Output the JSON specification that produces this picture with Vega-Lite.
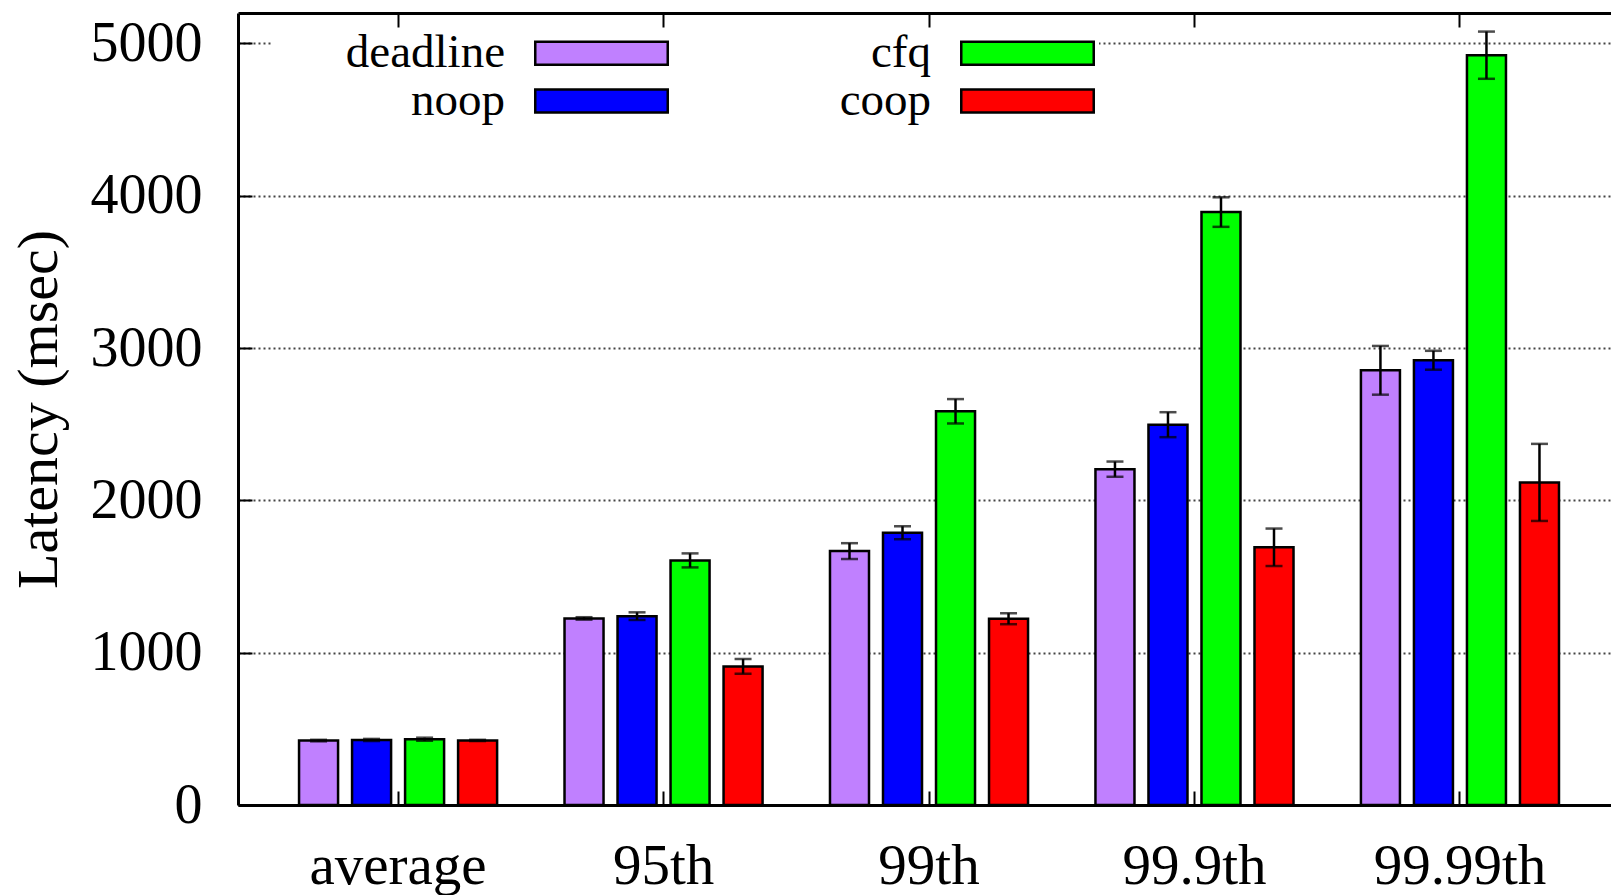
{
  "$schema": "https://vega.github.io/schema/vega-lite/v6.json",
  "width": 1373,
  "height": 792,
  "autosize": {"type": "none"},
  "padding": {"left": 238, "top": 13, "right": 0, "bottom": 90},
  "background": "white",
  "config": {
    "view": {"stroke": null},
    "font": "Liberation Serif, Times New Roman, serif",
    "axis": {
      "labelFont": "Liberation Serif, Times New Roman, serif",
      "titleFont": "Liberation Serif, Times New Roman, serif",
      "labelColor": "black",
      "titleColor": "black",
      "domainColor": "black",
      "domainWidth": 3,
      "tickColor": "black",
      "tickWidth": 2,
      "titleFontWeight": "normal"
    }
  },
  "data": {
    "values": [
      {"stat": "average", "sched": "deadline", "value": 423, "lo": 418, "hi": 428},
      {"stat": "average", "sched": "noop", "value": 427, "lo": 420, "hi": 434},
      {"stat": "average", "sched": "cfq", "value": 432, "lo": 422, "hi": 442},
      {"stat": "average", "sched": "coop", "value": 424, "lo": 420, "hi": 428},
      {"stat": "95th", "sched": "deadline", "value": 1225, "lo": 1217, "hi": 1233},
      {"stat": "95th", "sched": "noop", "value": 1240, "lo": 1215, "hi": 1265},
      {"stat": "95th", "sched": "cfq", "value": 1606, "lo": 1560, "hi": 1652},
      {"stat": "95th", "sched": "coop", "value": 910, "lo": 862, "hi": 958},
      {"stat": "99th", "sched": "deadline", "value": 1667, "lo": 1615, "hi": 1719},
      {"stat": "99th", "sched": "noop", "value": 1788, "lo": 1745, "hi": 1830},
      {"stat": "99th", "sched": "cfq", "value": 2585, "lo": 2505, "hi": 2665},
      {"stat": "99th", "sched": "coop", "value": 1223, "lo": 1187, "hi": 1259},
      {"stat": "99.9th", "sched": "deadline", "value": 2205, "lo": 2155, "hi": 2255},
      {"stat": "99.9th", "sched": "noop", "value": 2497, "lo": 2415, "hi": 2579},
      {"stat": "99.9th", "sched": "cfq", "value": 3893, "lo": 3796, "hi": 3990},
      {"stat": "99.9th", "sched": "coop", "value": 1692, "lo": 1569, "hi": 1815},
      {"stat": "99.99th", "sched": "deadline", "value": 2854, "lo": 2694, "hi": 3014},
      {"stat": "99.99th", "sched": "noop", "value": 2920, "lo": 2858, "hi": 2982},
      {"stat": "99.99th", "sched": "cfq", "value": 4923, "lo": 4768, "hi": 5078},
      {"stat": "99.99th", "sched": "coop", "value": 2118, "lo": 1865, "hi": 2371}
    ]
  },
  "layer": [
    {
      "mark": {"type": "bar", "stroke": "black", "strokeWidth": 2.5, "opacity": 1},
      "encoding": {
        "x": {
          "field": "stat", "type": "nominal",
          "sort": ["average", "95th", "99th", "99.9th", "99.99th"],
          "scale": {"paddingInner": 0.206, "paddingOuter": 0.189, "align": 0.545},
          "axis": {"orient": "bottom", "title": null, "labelAngle": 0, "labelFontSize": 57, "tickSize": -14, "labelPadding": 47, "labelBaseline": "top"}
        },
        "xOffset": {
          "field": "sched", "type": "nominal",
          "sort": ["deadline", "noop", "cfq", "coop"],
          "scale": {"paddingInner": 0.264, "paddingOuter": 0.12}
        },
        "y": {
          "field": "value", "type": "quantitative",
          "scale": {"domain": [0, 5200], "nice": false, "zero": true},
          "axis": {
            "values": [0, 1000, 2000, 3000, 4000, 5000],
            "format": "d",
            "title": "Latency (msec)",
            "titleFontSize": 58,
            "titlePadding": 22,
            "labelFontSize": 56,
            "tickSize": -14,
            "labelPadding": 50,
            "grid": true,
            "gridColor": "#444444",
            "gridDash": [2, 3],
            "gridWidth": 1.8
          }
        },
        "fill": {
          "field": "sched", "type": "nominal",
          "scale": {"domain": ["deadline", "noop", "cfq", "coop"], "range": ["#c080ff", "#0000ff", "#00ff00", "#ff0000"]},
          "legend": {
            "orient": "none",
            "legendX": 34,
            "legendY": 16.5,
            "direction": "vertical",
            "columns": 2,
            "title": null,
            "symbolType": "M-3.011,-0.527L3.011,-0.527L3.011,0.527L-3.011,0.527Z",
            "symbolSize": 1936,
            "symbolOffset": 306,
            "symbolStrokeColor": "black",
            "symbolStrokeWidth": 2.5,
            "symbolOpacity": 1,
            "labelFont": "Liberation Serif, Times New Roman, serif",
            "labelFontSize": 47,
            "labelColor": "black",
            "labelAlign": "right",
            "labelOffset": -120,
            "labelLimit": 400,
            "columnPadding": 25,
            "rowPadding": 0,
            "fillColor": "white",
            "padding": 0
          }
        }
      }
    },
    {
      "mark": {"type": "rule", "color": "black", "strokeWidth": 2.5},
      "encoding": {
        "x": {
          "field": "stat", "type": "nominal",
          "sort": ["average", "95th", "99th", "99.9th", "99.99th"],
          "axis": {"orient": "top", "title": null, "labels": false, "tickSize": -14}
        },
        "xOffset": {"field": "sched", "type": "nominal", "sort": ["deadline", "noop", "cfq", "coop"]},
        "y": {"field": "lo", "type": "quantitative"},
        "y2": {"field": "hi"}
      }
    },
    {
      "mark": {"type": "tick", "color": "black", "orient": "horizontal", "size": 17, "thickness": 2.5},
      "encoding": {
        "x": {"field": "stat", "type": "nominal", "sort": ["average", "95th", "99th", "99.9th", "99.99th"], "axis": null},
        "xOffset": {"field": "sched", "type": "nominal", "sort": ["deadline", "noop", "cfq", "coop"]},
        "y": {"field": "lo", "type": "quantitative"}
      }
    },
    {
      "mark": {"type": "tick", "color": "black", "orient": "horizontal", "size": 17, "thickness": 2.5},
      "encoding": {
        "x": {"field": "stat", "type": "nominal", "sort": ["average", "95th", "99th", "99.9th", "99.99th"], "axis": null},
        "xOffset": {"field": "sched", "type": "nominal", "sort": ["deadline", "noop", "cfq", "coop"]},
        "y": {"field": "hi", "type": "quantitative"}
      }
    }
  ],
  "resolve": {"axis": {"x": "independent"}}
}
